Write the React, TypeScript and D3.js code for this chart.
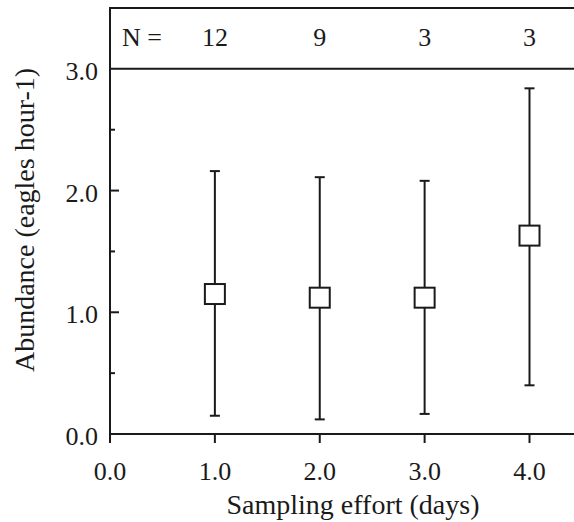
import React from "react";
import { scaleLinear } from "d3";

const effort = [1, 2, 3, 4];
const nLabels = ["12", "9", "3", "3"];
const meanAbundance = [1.15, 1.12, 1.12, 1.63];
const upperBar = [2.16, 2.11, 2.08, 2.84];
const lowerBar = [0.15, 0.12, 0.165, 0.4];
const xTicks = [0, 1, 2, 3, 4];
const yTicks = [0, 1, 2, 3];
const yMinorTicks = [0.5, 1.5, 2.5];

const font = "'Liberation Serif', 'Times New Roman', serif";
const ink = "#1a1a1a";

export default function App() {
  const width = 574,
    height = 522;
  const left = 110,
    bottom = 434;

  const xScale = scaleLinear().domain([0, 4]).range([left, 529.5]);
  const yScale = scaleLinear().domain([0, 3.5]).range([bottom, 8]);

  return (
    <svg
      width={width}
      height={height}
      style={{ position: "absolute", left: 0, top: 0 }}
    >
      <g stroke={ink} strokeWidth={2} fill="none">
        {/* frame: y axis, x axis, header box */}
        <line x1={left} x2={left} y1={yScale(3.5)} y2={bottom + 9} />
        <line x1={left - 1} x2={width} y1={bottom} y2={bottom} />
        <line x1={left - 1} x2={width} y1={yScale(3.5)} y2={yScale(3.5)} />
        <line x1={left} x2={width} y1={yScale(3)} y2={yScale(3)} />

        {yTicks.slice(1, 3).map(t => (
          <line key={t} x1={left} x2={left + 9} y1={yScale(t)} y2={yScale(t)} />
        ))}
        {yMinorTicks.map(t => (
          <line key={t} x1={left} x2={left + 5} y1={yScale(t)} y2={yScale(t)} />
        ))}
        {xTicks.slice(1).map(t => (
          <line key={t} x1={xScale(t)} x2={xScale(t)} y1={bottom} y2={bottom + 9} />
        ))}

        {effort.map((e, i) => (
          <g key={e}>
            <line x1={xScale(e)} x2={xScale(e)} y1={yScale(upperBar[i])} y2={yScale(lowerBar[i])} />
            <line x1={xScale(e) - 5} x2={xScale(e) + 5} y1={yScale(upperBar[i])} y2={yScale(upperBar[i])} />
            <line x1={xScale(e) - 5} x2={xScale(e) + 5} y1={yScale(lowerBar[i])} y2={yScale(lowerBar[i])} />
            <rect
              x={xScale(e) - 10}
              y={yScale(meanAbundance[i]) - 10}
              width={20}
              height={20}
              fill="white"
            />
          </g>
        ))}
      </g>

      <g fontFamily={font} fontSize={26} fill={ink}>
        {yTicks.map(t => (
          <text key={t} x={left - 12} y={yScale(t) + 11} textAnchor="end">
            {t.toFixed(1)}
          </text>
        ))}
        {xTicks.map(t => (
          <text key={t} x={xScale(t)} y={bottom + 46} textAnchor="middle">
            {t.toFixed(1)}
          </text>
        ))}
        <text x={122} y={46}>N =</text>
        {effort.map((e, i) => (
          <text key={e} x={xScale(e)} y={46} textAnchor="middle">
            {nLabels[i]}
          </text>
        ))}
        <text x={353} y={514} textAnchor="middle" fontSize={28}>
          Sampling effort (days)
        </text>
        <text
          transform={`translate(34, 220) rotate(-90)`}
          textAnchor="middle"
          fontSize={28}
        >
          Abundance (eagles hour-1)
        </text>
      </g>
    </svg>
  );
}
